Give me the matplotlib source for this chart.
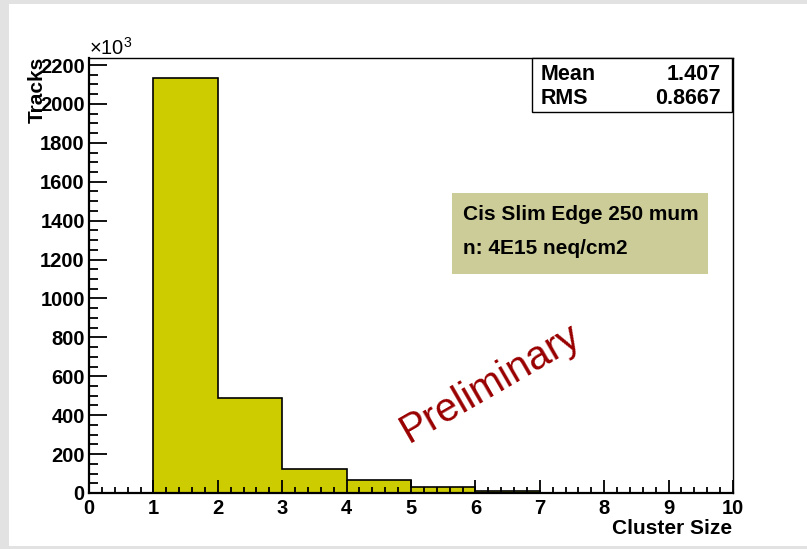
import matplotlib.pyplot as plt
import numpy as np
from matplotlib.patches import Rectangle
from matplotlib.ticker import MultipleLocator

plt.rcParams['font.family'] = ['Liberation Sans', 'DejaVu Sans']
plt.rcParams['mathtext.fontset'] = 'custom'
plt.rcParams['mathtext.rm'] = 'Liberation Sans'

# cluster size histogram, counts in units of 10^3 tracks
edges = np.arange(0, 11)
counts = [0, 2133, 488, 123, 67, 31, 10, 2, 0.5, 0]

stats_names = ['Mean', 'RMS']
stats_values = ['1.407', '0.8667']
legend_lines = ['Cis Slim Edge 250 mum', 'n: 4E15 neq/cm2']

W, H = 807, 549
fig = plt.figure(figsize=(W / 100, H / 100), dpi=100, facecolor='#e2e2e2')
fig.patches.append(Rectangle((9 / W, 3 / H), 1, 542 / H, transform=fig.transFigure,
                             facecolor='white', edgecolor='none', zorder=-5))

ax = fig.add_axes([89 / W, 56 / H, 644 / W, 435 / H])
ax.set_facecolor('white')

ax.stairs(counts, edges, fill=True, color='#cccc00', zorder=1)
ax.stairs(counts, edges, color='black', linewidth=1.2, zorder=2)

ax.set_xlim(0, 10)
ax.set_ylim(0, 2236)

ax.xaxis.set_major_locator(MultipleLocator(1))
ax.xaxis.set_minor_locator(MultipleLocator(0.2))
ax.yaxis.set_major_locator(MultipleLocator(200))
ax.yaxis.set_minor_locator(MultipleLocator(50))
ax.tick_params(axis='both', which='both', direction='in', top=False, right=False,
               width=1.3, labelsize=14.5)
ax.tick_params(axis='x', which='major', length=9.5, pad=4)
ax.tick_params(axis='x', which='minor', length=4.5)
ax.tick_params(axis='y', which='major', length=13, pad=3)
ax.tick_params(axis='y', which='minor', length=6.5)
for lab in ax.get_xticklabels() + ax.get_yticklabels():
    lab.set_fontweight('bold')

for side in ['left', 'bottom']:
    ax.spines[side].set_linewidth(1.6)
for side in ['top', 'right']:
    ax.spines[side].set_linewidth(1.0)

fig.text(732 / W, 1 - 528 / H, 'Cluster Size', ha='right', va='center',
         fontsize=15, fontweight='bold')
fig.text(37 / W, 1 - 57 / H, 'Tracks', ha='center', va='top', rotation=90,
         fontsize=15, fontweight='bold')
fig.text(89 / W, 1 - 55 / H, r'$\times10^{3}$', ha='left', va='baseline', fontsize=14.5)

# stats box
ax.add_patch(Rectangle((532 / W, 1 - 112 / H), 200 / W, 54 / H, transform=fig.transFigure,
                       facecolor='white', edgecolor='black', linewidth=1.0, zorder=5,
                       clip_on=False))
for i, (name, val) in enumerate(zip(stats_names, stats_values)):
    y = 1 - (74 + 24 * i) / H
    fig.text(541 / W, y, name, ha='left', va='center', fontsize=15.5,
             fontweight='bold', zorder=6)
    fig.text(721 / W, y, val, ha='right', va='center', fontsize=15.5,
             fontweight='bold', zorder=6)

# label box
ax.add_patch(Rectangle((452 / W, 1 - 274 / H), 256 / W, 81 / H, transform=fig.transFigure,
                       facecolor='#cccc99', edgecolor='none', zorder=5, clip_on=False))
for i, line in enumerate(legend_lines):
    fig.text(463 / W, 1 - (214 + 34 * i) / H, line, ha='left', va='center',
             fontsize=15, fontweight='bold', zorder=6)

fig.text(490 / W, 1 - 383 / H, 'Preliminary', ha='center', va='center',
         rotation=30, rotation_mode='anchor', fontsize=29, color='#990000')

fig.savefig('out.png', dpi=100, facecolor=fig.get_facecolor())
